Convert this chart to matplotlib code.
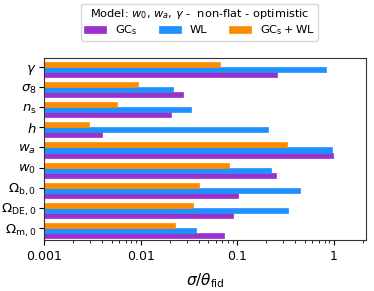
import matplotlib
matplotlib.use("Agg")
import matplotlib.pyplot as plt
import numpy as np

params = [r"$\Omega_{\rm m,0}$", r"$\Omega_{\rm DE,0}$", r"$\Omega_{\rm b,0}$",
          r"$w_0$", r"$w_a$", r"$h$", r"$n_{\rm s}$", r"$\sigma_8$", r"$\gamma$"]
gcs = [0.0721, 0.090, 0.102, 0.253, 0.98, 0.00398, 0.0206, 0.0272, 0.257]
wl = [0.0377, 0.334, 0.443, 0.225, 0.96, 0.209, 0.0329, 0.0218, 0.82]
comb = [0.0229, 0.035, 0.040, 0.083, 0.326, 0.00294, 0.00574, 0.0094, 0.0667]
series_labels = [r"GC$_{\rm s}$", "WL", r"GC$_{\rm s}+$WL"]
colors = ["darkorchid", "dodgerblue", "darkorange"]
xticks = [0.001, 0.01, 0.1, 1]
xticklabels = ["0.001", "0.01", "0.1", "1"]

fig = plt.figure(figsize=(3.74, 2.91), dpi=100)
ax = fig.add_axes([44/374, 1-240/291, (366-44)/374, (240-58)/291])

y = np.arange(len(params))
h = 0.25
offsets = [-0.375, -0.125, 0.125]
for vals, off, c, lab in zip([gcs, wl, comb], offsets, colors, series_labels):
    ax.barh(y + off, vals, height=h, color=c, label=lab,
            edgecolor=c, linewidth=0.5)

ax.set_xscale("log")
ax.set_xlim(0.001, 2.15)
ax.set_ylim(-0.61, 8.46)
ax.set_yticks(y)
ax.set_yticklabels(params, fontsize=9.5)
ax.tick_params(axis="y", pad=2)
ax.set_xticks(xticks)
ax.set_xticklabels(xticklabels, fontsize=9)
ax.set_xlabel(r"$\sigma/\theta_{\rm fid}$", fontsize=11, labelpad=6)
for s in ax.spines.values():
    s.set_color("#333333")
    s.set_linewidth(0.8)

leg = fig.legend(loc="upper center", bbox_to_anchor=(199.5/374, 1+2/291), ncol=3,
                 title=r"Model: $w_0$, $w_a$, $\gamma$ -  non-flat - optimistic",
                 fontsize=8.2, title_fontsize=8.2, handlelength=1.9, handleheight=0.6,
                 columnspacing=1.9, handletextpad=0.8, borderpad=0.3, labelspacing=0.2,
                 frameon=True)
leg.get_frame().set_edgecolor("#cccccc")

fig.savefig("out.png", dpi=100)
